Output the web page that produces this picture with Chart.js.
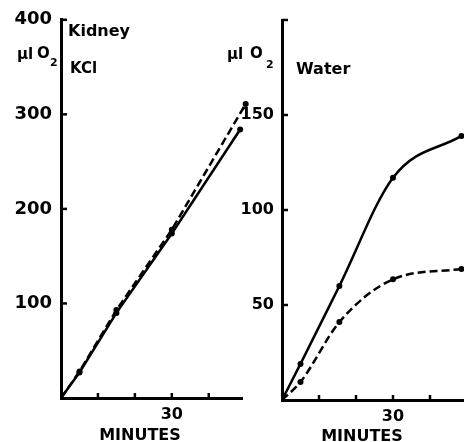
<!DOCTYPE html>
<html>
<head>
<meta charset="utf-8">
<script src="https://cdn.jsdelivr.net/npm/chart.js@4.4.0/dist/chart.umd.min.js"></script>
<style>
  html, body { margin: 0; padding: 0; background: #fff; overflow: hidden; width: 464px; height: 442px; }
  #left { position: absolute; left: 0; top: 0; }
  #right { position: absolute; left: 215px; top: 0; }
</style>
</head>
<body>
<canvas id="left" width="250" height="442"></canvas>
<canvas id="right" width="265" height="442"></canvas>
<script>
// Kidney, KCl
const kclMinutes = [0, 5, 15, 30, 48.5];
const kclSolid = [0, 27, 90, 174, 284];
const kclDashedMinutes = [0, 5, 15, 30, 50];
const kclDashed = [0, 28, 93, 178, 311];

// Water
const waterMinutes = [0, 5, 15.5, 30, 48.5];
const waterSolid = [0, 19, 60, 117, 139];
const waterDashed = [0, 9.5, 41, 63.5, 69];

const xTicks = [0, 10, 20, 30, 40];
const xLabelled = [30];
const kclYTicks = [0, 100, 200, 300, 400];
const waterYTicks = [0, 50, 100, 150, 200];
const waterYLabelled = [50, 100, 150];

const FONT = 'DejaVu Sans';

const pts = (xs, ys) => xs.map((x, i) => ({ x: x, y: ys[i] }));

// small tick marks pointing into the plot, plus the free text
const innerTicks = {
  id: 'innerTicks',
  afterDraw(chart, args, opts) {
    const { ctx, chartArea, scales } = chart;
    ctx.save();
    ctx.strokeStyle = '#000';
    ctx.lineWidth = 2.5;
    scales.y.ticks.forEach(t => {
      if (t.value === 0) return;
      const y = scales.y.getPixelForValue(t.value);
      ctx.beginPath();
      ctx.moveTo(chartArea.left, y);
      ctx.lineTo(chartArea.left + 6, y);
      ctx.stroke();
    });
    scales.x.ticks.forEach(t => {
      if (t.value === 0) return;
      const x = scales.x.getPixelForValue(t.value);
      ctx.beginPath();
      ctx.moveTo(x, chartArea.bottom);
      ctx.lineTo(x, chartArea.bottom - 5);
      ctx.stroke();
    });
    ctx.fillStyle = '#000';
    ctx.textBaseline = 'alphabetic';
    (opts.texts || []).forEach(t => {
      ctx.font = 'bold ' + t.size + 'px "' + FONT + '"';
      ctx.textAlign = t.align || 'left';
      ctx.fillText(t.text, t.x, t.y);
    });
    ctx.restore();
  }
};

function makeChart(el, cfg) {
  return new Chart(document.getElementById(el), {
    type: 'line',
    data: {
      datasets: [
        {
          data: cfg.solid,
          borderColor: '#000',
          backgroundColor: '#000',
          borderWidth: 2.5,
          tension: 0,
          cubicInterpolationMode: cfg.curve ? 'monotone' : 'default',
          pointRadius: c => c.dataIndex === 0 ? 0 : 3,
          pointBorderWidth: 0,
          clip: false
        },
        {
          data: cfg.dashed,
          borderColor: '#000',
          backgroundColor: '#000',
          borderWidth: 2.5,
          borderDash: [8, 4],
          tension: 0,
          cubicInterpolationMode: cfg.curve ? 'monotone' : 'default',
          pointRadius: c => c.dataIndex === 0 ? 0 : 3,
          pointBorderWidth: 0,
          clip: false
        }
      ]
    },
    options: {
      responsive: false,
      animation: false,
      devicePixelRatio: 1,
      layout: { padding: cfg.padding },
      plugins: {
        legend: { display: false },
        tooltip: { enabled: false },
        innerTicks: { texts: cfg.texts }
      },
      scales: {
        x: {
          type: 'linear',
          min: 0,
          max: cfg.xMax,
          afterFit: s => { s.height = cfg.xHeight; },
          afterBuildTicks: s => { s.ticks = xTicks.map(v => ({ value: v })); },
          grid: { display: false, drawTicks: false },
          border: { display: true, width: 3, color: '#000' },
          ticks: {
            color: '#000',
            padding: 7,
            maxRotation: 0,
            autoSkip: false,
            font: { family: FONT, weight: 'bold', size: 16 },
            callback: v => xLabelled.includes(v) ? String(v) : ''
          }
        },
        y: {
          type: 'linear',
          min: 0,
          max: cfg.yMax,
          afterFit: s => { s.width = cfg.yWidth; },
          afterBuildTicks: s => { s.ticks = cfg.yTicks.map(v => ({ value: v })); },
          grid: { display: false, drawTicks: false },
          border: { display: true, width: 3, color: '#000' },
          ticks: {
            color: '#000',
            padding: cfg.yPad,
            autoSkip: false,
            font: { family: FONT, weight: 'bold', size: cfg.ySize },
            callback: v => cfg.yLabelled.includes(v) ? String(v) : ''
          }
        }
      }
    },
    plugins: [innerTicks]
  });
}

makeChart('left', {
  solid: pts(kclMinutes, kclSolid),
  dashed: pts(kclDashedMinutes, kclDashed),
  curve: false,
  xMax: 49,
  yMax: 400,
  yTicks: kclYTicks,
  yLabelled: [100, 200, 300, 400],
  padding: { top: 18, right: 8, left: 0, bottom: 0 },
  xHeight: 44,
  yWidth: 61,
  yPad: 9,
  ySize: 18,
  texts: [
    { text: 'Kidney', x: 68, y: 36, size: 16 },
    { text: 'KCl', x: 70, y: 73, size: 15 },
    { text: 'μl', x: 17, y: 59, size: 15 },
    { text: 'O', x: 37, y: 58, size: 15 },
    { text: '2', x: 50, y: 66, size: 11 },
    { text: 'MINUTES', x: 140, y: 440, size: 16, align: 'center' }
  ]
});

makeChart('right', {
  solid: pts(waterMinutes, waterSolid),
  dashed: pts(waterMinutes, waterDashed),
  curve: true,
  xMax: 50,
  yMax: 200,
  yTicks: waterYTicks,
  yLabelled: waterYLabelled,
  padding: { top: 20, right: 13, left: 0, bottom: 0 },
  xHeight: 42,
  yWidth: 67,
  yPad: 8,
  ySize: 16,
  texts: [
    { text: 'μl', x: 12, y: 59, size: 15 },
    { text: 'O', x: 35, y: 58, size: 15 },
    { text: '2', x: 51, y: 68, size: 11 },
    { text: 'Water', x: 81, y: 74, size: 16 },
    { text: 'MINUTES', x: 147, y: 441, size: 16, align: 'center' }
  ]
});
</script>
</body>
</html>
